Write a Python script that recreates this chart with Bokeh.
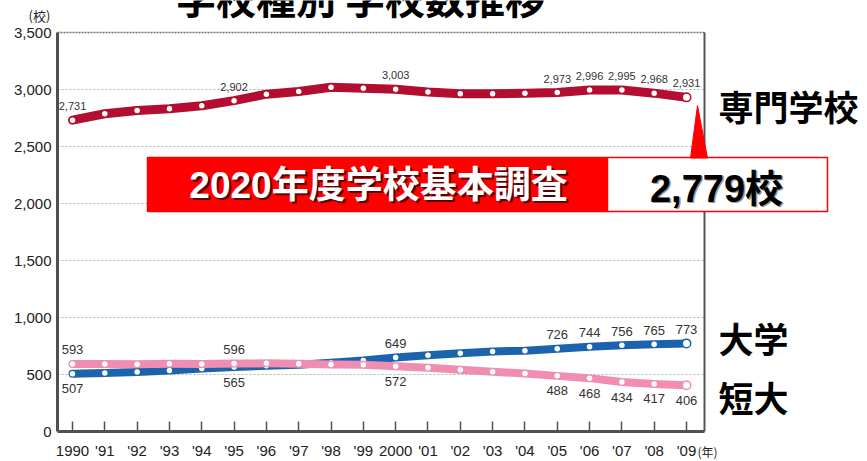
from bokeh.plotting import figure
from bokeh.models import Range1d, FixedTicker
from bokeh.core.properties import value
from bokeh.embed import file_html
from bokeh.resources import INLINE

# ---------------- data ----------------
years = list(range(1990, 2010))
senmon = [2731, 2787, 2816, 2831, 2857, 2902, 2959, 2982, 3019, 3012,
          3003, 2978, 2963, 2962, 2968, 2973, 2996, 2995, 2968, 2931]
daigaku = [507, 514, 523, 534, 552, 565, 576, 586, 604, 622,
           649, 669, 686, 702, 709, 726, 744, 756, 765, 773]
tandai = [593, 592, 591, 595, 593, 596, 598, 595, 588, 585,
          572, 559, 541, 525, 508, 488, 468, 434, 417, 406]
x_tick_labels = ["1990", "'91", "'92", "'93", "'94", "'95", "'96", "'97", "'98", "'99",
                 "2000", "'01", "'02", "'03", "'04", "'05", "'06", "'07", "'08", "'09"]
y_ticks = [0, 500, 1000, 1500, 2000, 2500, 3000, 3500]
y_tick_labels = ["0", "500", "1,000", "1,500", "2,000", "2,500", "3,000", "3,500"]
label_years = [1990, 1995, 2000, 2005, 2006, 2007, 2008, 2009]
daigaku_label_side = ["below", "below", "above", "above", "above", "above", "above", "above"]
tandai_label_side = ["above", "above", "below", "below", "below", "below", "below", "below"]
series_names = ["専門学校", "大学", "短大"]
title_text = "学校種別 学校数推移"
callout_title = "2020年度学校基本調査"
callout_value = "2,779校"
y_unit = "(校)"
x_unit = "(年)"

# ---------------- layout (reference pixel geometry) ----------------
W, H = 867, 461
AXIS_L, AXIS_B, AXIS_R, AXIS_T = 57, 431, 704, 32
X_FIRST, X_LAST = 72, 686
px_per_year = (X_LAST - X_FIRST) / (years[-1] - years[0])
px_per_unit = (AXIS_B - AXIS_T) / y_ticks[-1]
x_axis_start = years[0] - (X_FIRST - AXIS_L) / px_per_year


def rx(px):
    return x_axis_start + (px - AXIS_L) / px_per_year


def ry(py):
    return (AXIS_B - py) / px_per_unit


RED = "#b30d30"
BLUE = "#1c63ad"
PINK = "#f08db2"
CALLOUT = "#ff0000"
NUM_FONT = value("Liberation Sans")
JP_FONT = value("Noto Sans CJK JP")
MIX_FONT = value("Liberation Sans, Noto Sans CJK JP")

# the frame covers the whole canvas; axes are drawn at fixed locations inside it
p = figure(width=W, height=H, x_range=Range1d(rx(0), rx(W)), y_range=Range1d(ry(H), ry(0)),
           output_backend="svg", toolbar_location=None,
           min_border_left=0, min_border_right=0, min_border_top=0, min_border_bottom=0,
           outline_line_color=None, background_fill_color="white", border_fill_color="white")
p.grid.visible = False

xa = p.xaxis[0]
xa.fixed_location = 0
xa.ticker = FixedTicker(ticks=years)
xa.major_label_overrides = {y: l for y, l in zip(years, x_tick_labels)}
xa.bounds = (x_axis_start, rx(AXIS_R))
xa.axis_line_color = "#505050"
xa.axis_line_width = 3
xa.major_tick_in = 10
xa.major_tick_out = 0
xa.major_tick_line_color = "#505050"
xa.major_tick_line_width = 1.5
xa.minor_tick_line_color = None
xa.major_label_standoff = 10
xa.major_label_text_font = "Liberation Sans"
xa.major_label_text_font_size = "15px"
xa.major_label_text_color = "#222222"

ya = p.yaxis[0]
ya.fixed_location = x_axis_start
ya.ticker = FixedTicker(ticks=y_ticks)
ya.major_label_overrides = {t: l for t, l in zip(y_ticks, y_tick_labels)}
ya.bounds = (0, y_ticks[-1])
ya.axis_line_color = "#505050"
ya.axis_line_width = 3
ya.major_tick_in = 0
ya.major_tick_out = 0
ya.minor_tick_line_color = None
ya.major_label_standoff = 6
ya.major_label_text_font = "Liberation Sans"
ya.major_label_text_font_size = "15px"
ya.major_label_text_color = "#222222"

# grid lines (stop at the right border) and frame borders
grid_levels = y_ticks[1:-1]
p.segment(x0=[x_axis_start] * len(grid_levels), x1=[rx(AXIS_R)] * len(grid_levels),
          y0=grid_levels, y1=grid_levels, line_color="#b0b0b0", line_width=1, line_dash="2 2")
p.segment(x0=[x_axis_start], x1=[rx(AXIS_R)], y0=[y_ticks[-1]], y1=[y_ticks[-1]],
          line_color="#707070", line_width=1.5, line_dash="2 1")
p.segment(x0=[rx(AXIS_R)], x1=[rx(AXIS_R)], y0=[0], y1=[y_ticks[-1]],
          line_color="#555555", line_width=2)

# series
for vals, col, w in [(daigaku, BLUE, 8), (tandai, PINK, 8), (senmon, RED, 9)]:
    p.line(years, vals, line_color=col, line_width=w, line_join="round", line_cap="round")
    p.scatter(years[:-1], vals[:-1], size=5.5, fill_color="white", line_color=None)
    p.scatter([years[-1]], [vals[-1]], size=8.5, fill_color="white", line_color=col, line_width=1.5)

# value labels
idx = [years.index(y) for y in label_years]
p.text(x=label_years, y=[senmon[i] for i in idx], text=[f"{senmon[i]:,}" for i in idx],
       y_offset=-14, text_align="center", text_baseline="middle",
       text_font=NUM_FONT, text_font_size="11px", text_color="#333333")
for vals, sides in [(daigaku, daigaku_label_side), (tandai, tandai_label_side)]:
    p.text(x=label_years, y=[vals[i] for i in idx], text=[f"{vals[i]:,}" for i in idx],
           y_offset=[-14 if s == "above" else 15 for s in sides],
           text_align="center", text_baseline="middle",
           text_font=NUM_FONT, text_font_size="13px", text_color="#333333")

# series names
for name, py in zip(series_names, [105, 337, 396]):
    p.text(x=[rx(718)], y=[ry(py)], text=[name], text_align="left", text_baseline="middle",
           text_font=JP_FONT, text_font_style="bold", text_font_size="35px", text_color="#000000")

# callout
p.quad(left=[rx(147)], right=[rx(607)], top=[ry(157)], bottom=[ry(211)],
       fill_color=CALLOUT, line_color=CALLOUT, line_width=1.5)
p.quad(left=[rx(607)], right=[rx(827)], top=[ry(157)], bottom=[ry(211)],
       fill_color="white", line_color=CALLOUT, line_width=1.5)
p.patch(x=[rx(690), rx(697), rx(707)], y=[ry(157.5), ry(105), ry(157.5)],
        fill_color=CALLOUT, line_color=CALLOUT, line_width=1)
p.text(x=[rx(378)], y=[ry(185)], text=[callout_title], x_offset=2, y_offset=2,
       text_align="center", text_baseline="middle", text_font=MIX_FONT,
       text_font_style="bold", text_font_size="37px", text_color="#5a0000")
p.text(x=[rx(378)], y=[ry(185)], text=[callout_title],
       text_align="center", text_baseline="middle", text_font=MIX_FONT,
       text_font_style="bold", text_font_size="37px", text_color="#ffffff")
p.text(x=[rx(716)], y=[ry(188)], text=[callout_value], x_offset=1.5, y_offset=1.5,
       text_align="center", text_baseline="middle", text_font=MIX_FONT,
       text_font_style="bold", text_font_size="38px", text_color="#9a9a9a")
p.text(x=[rx(716)], y=[ry(188)], text=[callout_value],
       text_align="center", text_baseline="middle", text_font=MIX_FONT,
       text_font_style="bold", text_font_size="38px", text_color="#000000")

# title (its top is cut off by the page edge in the reference)
p.text(x=[rx(360)], y=[ry(-4)], text=[title_text], text_align="center", text_baseline="middle",
       text_font=JP_FONT, text_font_style="bold", text_font_size="40px", text_color="#000000")

# units
p.text(x=[rx(39)], y=[ry(15)], text=[y_unit], text_align="center", text_baseline="middle",
       text_font=JP_FONT, text_font_size="13px", text_color="#222222")
p.text(x=[rx(697)], y=[ry(451)], text=[x_unit], text_align="left", text_baseline="middle",
       text_font=JP_FONT, text_font_size="12px", text_color="#222222")

open("out.html", "w").write(file_html(p, INLINE))
